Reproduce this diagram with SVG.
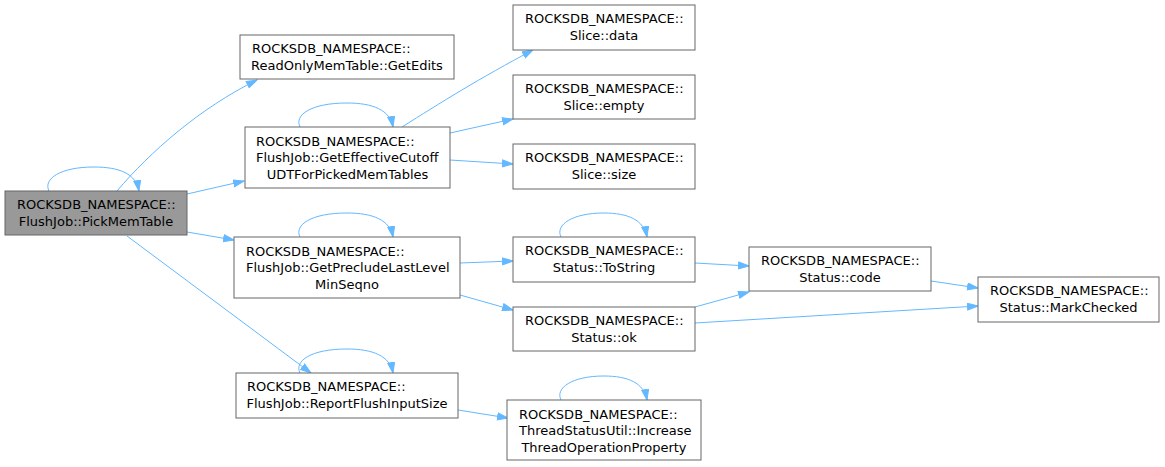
<svg xmlns="http://www.w3.org/2000/svg" width="1165" height="467" viewBox="0 0 1165 467">
<style>
.node rect{fill:#ffffff;stroke:#666666;stroke-width:1}
.node.root rect{fill:#999999}
.node text{font-family:"DejaVu Sans","Liberation Sans",sans-serif;font-size:13px;fill:#000000}
.mid{text-anchor:middle}
.edges path{fill:none;stroke:#63b8ff;stroke-width:1}
</style>
<defs>
<marker id="arr" markerUnits="userSpaceOnUse" markerWidth="12" markerHeight="10" refX="11" refY="4" orient="auto">
<path d="M0.5,0.5 L11,4 L0.5,7.5 z" fill="#63b8ff" stroke="#63b8ff" stroke-width="1"/>
</marker>
</defs>
<rect width="1165" height="467" fill="#ffffff"/>
<g class="edges">
<path marker-end="url(#arr)" d="M49,191 C43,179 60,167 94,167 C120,167 136,174 139,191"/>
<path marker-end="url(#arr)" d="M117,191 C150,152 200,108 257,80"/>
<path marker-end="url(#arr)" d="M187,194 L244,181"/>
<path marker-end="url(#arr)" d="M187,232 L234,240"/>
<path marker-end="url(#arr)" d="M127,236 L311,373"/>
<path marker-end="url(#arr)" d="M300,127 C294,115 311,103 347,103 C373,103 390,110 393,127"/>
<path marker-end="url(#arr)" d="M402,127 C440,103 480,78 533,50"/>
<path marker-end="url(#arr)" d="M450,133 L513,119"/>
<path marker-end="url(#arr)" d="M450,160 L513,164"/>
<path marker-end="url(#arr)" d="M300,237 C294,225 311,213 347,213 C373,213 390,220 393,237"/>
<path marker-end="url(#arr)" d="M460,263 L513,261"/>
<path marker-end="url(#arr)" d="M460,295 L513,310"/>
<path marker-end="url(#arr)" d="M561,237 C555,225 572,213 604,213 C628,213 644,220 647,237"/>
<path marker-end="url(#arr)" d="M695,263 L749,266"/>
<path marker-end="url(#arr)" d="M695,307 L749,292"/>
<path marker-end="url(#arr)" d="M695,323 L978,306"/>
<path marker-end="url(#arr)" d="M931,281 L978,288"/>
<path marker-end="url(#arr)" d="M300,373 C294,361 311,349 347,349 C373,349 390,356 393,373"/>
<path marker-end="url(#arr)" d="M458,410 L508,418"/>
<path marker-end="url(#arr)" d="M561,400 C555,388 572,376 604,376 C628,376 644,383 647,400"/>
</g>
<g id="n0" class="node root">
<rect x="5" y="191" width="182" height="44"/>
<text x="17" y="209">ROCKSDB_NAMESPACE::</text>
<text x="96" y="226" class="mid">FlushJob::PickMemTable</text>
</g>
<g id="n1" class="node">
<rect x="240" y="35" width="214" height="44"/>
<text x="252" y="53">ROCKSDB_NAMESPACE::</text>
<text x="347" y="70" class="mid">ReadOnlyMemTable::GetEdits</text>
</g>
<g id="n2" class="node">
<rect x="245" y="127" width="205" height="61"/>
<text x="256" y="145.5">ROCKSDB_NAMESPACE::</text>
<text x="256" y="162">FlushJob::GetEffectiveCutoff</text>
<text x="347.5" y="178.5" class="mid">UDTForPickedMemTables</text>
</g>
<g id="n3" class="node">
<rect x="513" y="5" width="182" height="45"/>
<text x="525" y="23">ROCKSDB_NAMESPACE::</text>
<text x="604" y="40" class="mid">Slice::data</text>
</g>
<g id="n4" class="node">
<rect x="513" y="75" width="182" height="44"/>
<text x="525" y="93">ROCKSDB_NAMESPACE::</text>
<text x="604" y="110" class="mid">Slice::empty</text>
</g>
<g id="n5" class="node">
<rect x="513" y="144" width="182" height="45"/>
<text x="525" y="162">ROCKSDB_NAMESPACE::</text>
<text x="604" y="179" class="mid">Slice::size</text>
</g>
<g id="n6" class="node">
<rect x="234" y="237" width="226" height="61"/>
<text x="246" y="255.5">ROCKSDB_NAMESPACE::</text>
<text x="246" y="272">FlushJob::GetPrecludeLastLevel</text>
<text x="347" y="288.5" class="mid">MinSeqno</text>
</g>
<g id="n7" class="node">
<rect x="513" y="237" width="182" height="45"/>
<text x="525" y="255">ROCKSDB_NAMESPACE::</text>
<text x="604" y="272" class="mid">Status::ToString</text>
</g>
<g id="n8" class="node">
<rect x="513" y="307" width="182" height="44"/>
<text x="525" y="325">ROCKSDB_NAMESPACE::</text>
<text x="604" y="342" class="mid">Status::ok</text>
</g>
<g id="n9" class="node">
<rect x="749" y="247" width="182" height="44"/>
<text x="761" y="265">ROCKSDB_NAMESPACE::</text>
<text x="840" y="282" class="mid">Status::code</text>
</g>
<g id="n10" class="node">
<rect x="978" y="277" width="181" height="45"/>
<text x="990" y="295">ROCKSDB_NAMESPACE::</text>
<text x="1068.5" y="312" class="mid">Status::MarkChecked</text>
</g>
<g id="n11" class="node">
<rect x="236" y="373" width="222" height="45"/>
<text x="247" y="391">ROCKSDB_NAMESPACE::</text>
<text x="347" y="408" class="mid">FlushJob::ReportFlushInputSize</text>
</g>
<g id="n12" class="node">
<rect x="507" y="400" width="194" height="60"/>
<text x="519" y="418.5">ROCKSDB_NAMESPACE::</text>
<text x="519" y="435">ThreadStatusUtil::Increase</text>
<text x="604" y="451.5" class="mid">ThreadOperationProperty</text>
</g>
</svg>
